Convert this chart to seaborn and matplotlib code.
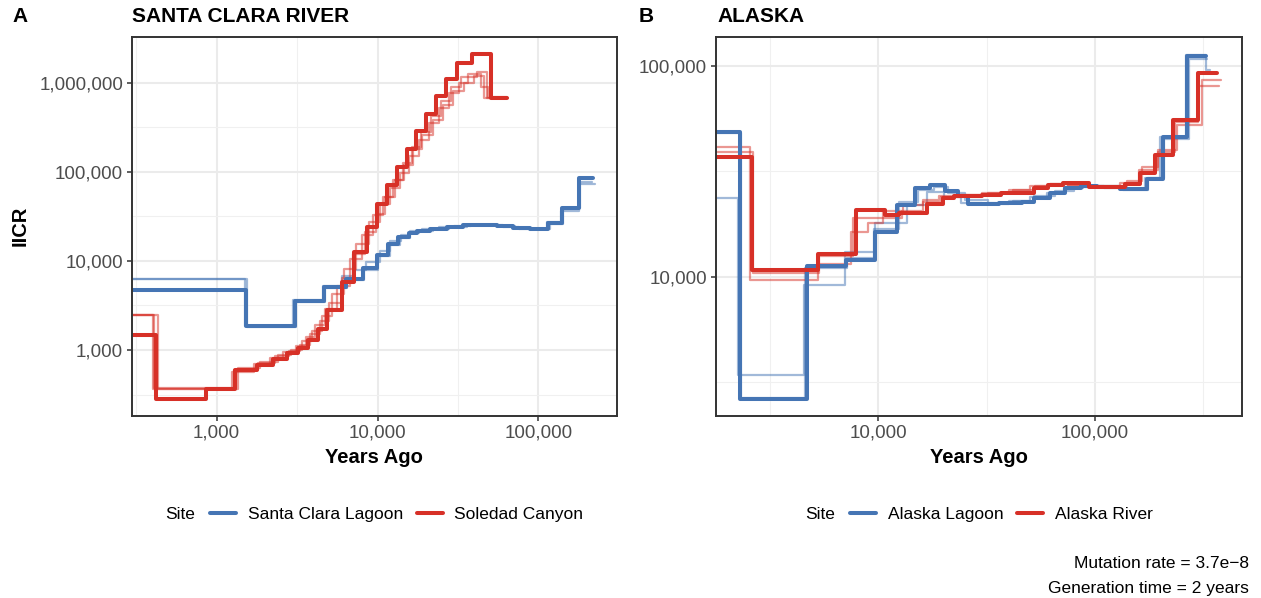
import numpy as np
import pandas as pd
import matplotlib
matplotlib.use("Agg")
import matplotlib.pyplot as plt
import seaborn as sns
from matplotlib.ticker import FixedLocator, FuncFormatter, NullFormatter
from matplotlib.lines import Line2D

# ---------------- data (step start times in years ago, IICR values) ----------------
# Panel A: Santa Clara River
scl_main_t = [250, 1521, 3070, 4650, 6370, 8170, 9980, 11700, 13500, 15600, 17500, 21200,
              26900, 34200, 43400, 55100, 69900, 88800, 115000, 140000, 180000]
scl_main_v = [4710, 1857, 3550, 5050, 6210, 8250, 11650, 15500, 18400, 20700, 21800, 22800,
              24200, 25100, 25300, 24600, 23200, 22600, 26800, 38900, 84400]
scl_main_end = 220000
scl_bs1_t = [250, 1500, 3000, 4600, 6000, 7000, 8500, 10300, 12000, 14000, 16000, 19000, 24000,
             30000, 38000, 48000, 60000, 76000, 95000, 113000, 138000, 178000]
scl_bs1_v = [6210, 1857, 3600, 5200, 6800, 7900, 9700, 13000, 16500, 19500, 21500, 22500, 23800,
             24800, 25300, 25000, 23800, 23000, 22800, 27500, 36000, 72000]
scl_bs1_end = 225000
scl_bs2_t = [250, 1540, 3100, 4700, 6500, 8300, 10100, 11900, 13800, 15900, 18000, 22000, 28000,
             36000, 45000, 57000, 72000, 91000, 118000, 142000, 182000]
scl_bs2_v = [6210, 1820, 3500, 4950, 6100, 8000, 11200, 15000, 18000, 20300, 21600, 22600, 24000,
             25000, 25200, 24400, 23100, 22500, 26000, 39500, 76000]
scl_bs2_end = 215000

sc_main_t = [250, 420, 859, 1300, 1770, 2250, 2720, 3220, 3715, 4290, 4830, 5985, 7140, 8570,
             9980, 11500, 13300, 15200, 17300, 20000, 23100, 26700, 31400, 38500, 50500]
sc_main_v = [1470, 279, 361, 596, 678, 785, 917, 1043, 1294, 1706, 2810, 5850, 12700, 24200,
             43500, 71000, 114000, 182000, 289000, 445000, 708000, 1109000, 1649000, 2099000, 679000]
sc_main_end = 63500
sc_bs1_t = [250, 400, 1250, 1700, 2150, 2600, 3100, 3600, 4100, 4700, 5600, 6700, 8000, 9400,
            10800, 12500, 14300, 16300, 18600, 21500, 24800, 28600, 33000, 41400, 47700]
sc_bs1_v = [2470, 361, 560, 700, 820, 960, 1100, 1400, 1900, 2900, 5200, 10500, 19500, 33000,
            52000, 80000, 125000, 190000, 280000, 420000, 620000, 900000, 1150000, 1330000, 669000]
sc_bs1_end = 65000
sc_bs2_t = [250, 430, 1350, 1850, 2400, 2900, 3400, 3900, 4500, 5200, 6200, 7400, 8800, 10300,
            11900, 13800, 15800, 18000, 20800, 24000, 27700, 32000, 36500, 44000, 48500]
sc_bs2_v = [2470, 365, 620, 740, 880, 1000, 1250, 1650, 2400, 4300, 8200, 15500, 27000, 44000,
            66000, 98000, 150000, 230000, 350000, 520000, 760000, 1000000, 1250000, 900000, 690000]
sc_bs2_end = 64000
sc_bs3_t = [250, 410, 1280, 1800, 2300, 2800, 3300, 3800, 4400, 5000, 6000, 7000, 8400, 9800,
            11200, 12900, 14700, 16700, 19000, 22000, 25500, 29500, 34500, 40000, 46000]
sc_bs3_v = [2470, 370, 600, 720, 850, 980, 1150, 1500, 2100, 3400, 6500, 12000, 21000, 34000,
            52000, 80000, 120000, 180000, 260000, 380000, 560000, 800000, 1000000, 1200000, 680000]
sc_bs3_end = 62000

# Panel B: Alaska
al_main_t = [1500, 2310, 4670, 7110, 9670, 12200, 14700, 17400, 20400, 23200, 26000, 36000,
             45900, 52100, 61700, 73000, 86300, 102000, 131000, 173000, 205000, 267000]
al_main_v = [48600, 2620, 11250, 12000, 16200, 21900, 26200, 27200, 25500, 24100, 22100, 22300,
             22600, 23500, 24800, 26200, 26900, 26500, 25900, 28900, 46100, 111000]
al_main_end = 325000
al_bs1_t = [1500, 2260, 4530, 7000, 9670, 13500, 16700, 20000, 24000, 30000, 40000, 52000,
            65000, 80000, 100000, 130000, 170000, 200000, 263000, 325000]
al_bs1_v = [23700, 3420, 9120, 13100, 17900, 21900, 25300, 23800, 22300, 22000, 22800, 24000,
            25500, 26500, 26800, 26000, 29500, 46000, 112000, 95500]
al_bs1_end = 339000
al_bs2_t = [1500, 2330, 4600, 7200, 9500, 12500, 15200, 18000, 21000, 25000, 32000, 42000,
            50000, 60000, 72000, 88000, 110000, 135000, 175000, 208000, 270000]
al_bs2_v = [48000, 2650, 11000, 12300, 16800, 22500, 25800, 26500, 24800, 23000, 22300, 22800,
            23800, 25000, 26300, 26800, 26300, 25700, 29200, 45000, 108000]
al_bs2_end = 330000

ar_main_t = [1500, 2600, 5250, 7900, 10700, 12400, 16700, 19800, 22400, 30000, 37000, 43000,
             52100, 60400, 71500, 94000, 137000, 161000, 190000, 229000, 299000]
ar_main_v = [37100, 10800, 12800, 20800, 19600, 20000, 22100, 23500, 24100, 24500, 24800, 25000,
             26200, 27200, 27700, 26700, 27500, 30900, 37800, 55200, 92000]
ar_main_end = 364000
ar_bs1_t = [1500, 2570, 5250, 7500, 9000, 10500, 13000, 16000, 19000, 23000, 30000, 40000,
            50000, 62000, 75000, 95000, 130000, 160000, 195000, 240000, 310000]
ar_bs1_v = [41000, 9640, 11500, 16200, 18000, 20500, 21800, 23000, 24000, 24500, 25000, 25800,
            26800, 27500, 27000, 26500, 27800, 32000, 40000, 52400, 85500]
ar_bs1_end = 380000
ar_bs2_t = [1500, 2650, 5300, 7600, 10200, 12800, 16000, 19500, 24000, 32000, 42000, 53000,
            62000, 75000, 98000, 140000, 165000, 195000, 235000, 300000]
ar_bs2_v = [39000, 10400, 12500, 19000, 19000, 20500, 22500, 23800, 24300, 24800, 25800, 26800,
            27400, 27000, 26800, 28500, 33000, 39000, 54000, 80000]
ar_bs2_end = 372000

sites_a = ["Santa Clara Lagoon", "Soledad Canyon"]
sites_b = ["Alaska Lagoon", "Alaska River"]
titles = ["SANTA CLARA RIVER", "ALASKA"]
panel_tags = ["A", "B"]

BLUE = "#4575B4"
RED = "#D73027"


def steps(site, rep, starts, values, end):
    t = list(starts) + [end]
    v = list(values) + [values[-1]]
    return pd.DataFrame({"site": site, "rep": rep, "years": t, "iicr": v})


df_a = pd.concat([
    steps(sites_a[0], "main", scl_main_t, scl_main_v, scl_main_end),
    steps(sites_a[0], "bs1", scl_bs1_t, scl_bs1_v, scl_bs1_end),
    steps(sites_a[0], "bs2", scl_bs2_t, scl_bs2_v, scl_bs2_end),
    steps(sites_a[1], "main", sc_main_t, sc_main_v, sc_main_end),
    steps(sites_a[1], "bs1", sc_bs1_t, sc_bs1_v, sc_bs1_end),
    steps(sites_a[1], "bs2", sc_bs2_t, sc_bs2_v, sc_bs2_end),
    steps(sites_a[1], "bs3", sc_bs3_t, sc_bs3_v, sc_bs3_end),
], ignore_index=True)

df_b = pd.concat([
    steps(sites_b[0], "main", al_main_t, al_main_v, al_main_end),
    steps(sites_b[0], "bs1", al_bs1_t, al_bs1_v, al_bs1_end),
    steps(sites_b[0], "bs2", al_bs2_t, al_bs2_v, al_bs2_end),
    steps(sites_b[1], "main", ar_main_t, ar_main_v, ar_main_end),
    steps(sites_b[1], "bs1", ar_bs1_t, ar_bs1_v, ar_bs1_end),
    steps(sites_b[1], "bs2", ar_bs2_t, ar_bs2_v, ar_bs2_end),
], ignore_index=True)

# ---------------- figure ----------------
sns.set_theme(style="white")
plt.rcParams['font.family'] = ['Liberation Sans', 'DejaVu Sans']
plt.rcParams['text.color'] = 'black'

W, H = 1261, 598
fig = plt.figure(figsize=(W / 100, H / 100), dpi=100)


def px_axes(l, t, r, b):
    return fig.add_axes([l / W, 1 - b / H, (r - l) / W, (b - t) / H])


axA = px_axes(131.8, 36.7, 617, 415.7)
axB = px_axes(716, 36.7, 1241.7, 415.7)


def draw(ax, df, order):
    pal = dict(zip(order, [BLUE, RED]))
    ax.set_xscale("log")
    ax.set_yscale("log")
    boots = df[df["rep"] != "main"]
    main = df[df["rep"] == "main"]
    sns.lineplot(data=boots, x="years", y="iicr", hue="site", units="rep", estimator=None,
                 sort=False, palette=pal, hue_order=order, linewidth=1.6, alpha=0.5,
                 drawstyle="steps-post", legend=False, ax=ax)
    sns.lineplot(data=main, x="years", y="iicr", hue="site", units="rep", estimator=None,
                 sort=False, palette=pal, hue_order=order, linewidth=2.9,
                 drawstyle="steps-post", legend=False, ax=ax)


draw(axA, df_a, sites_a)
draw(axB, df_b, sites_b)

fmt = FuncFormatter(lambda v, p: f"{v:,.0f}")


def style(ax, xlim, ylim, xmaj, xmin_, ymaj, ymin_):
    ax.set_xlim(*xlim)
    ax.set_ylim(*ylim)
    ax.xaxis.set_major_locator(FixedLocator(xmaj))
    ax.xaxis.set_minor_locator(FixedLocator(xmin_))
    ax.yaxis.set_major_locator(FixedLocator(ymaj))
    ax.yaxis.set_minor_locator(FixedLocator(ymin_))
    ax.xaxis.set_major_formatter(fmt)
    ax.yaxis.set_major_formatter(fmt)
    ax.xaxis.set_minor_formatter(NullFormatter())
    ax.yaxis.set_minor_formatter(NullFormatter())
    ax.grid(which="major", color="#EBEBEB", linewidth=1.5)
    ax.grid(which="minor", color="#F0F0F0", linewidth=0.8)
    ax.set_axisbelow(True)
    for s in ax.spines.values():
        s.set_visible(True)
        s.set_color("#333333")
        s.set_linewidth(1.4)
    ax.tick_params(which="major", length=3.8, width=1.1, color="#333333", labelsize=13.6,
                   labelcolor="#4D4D4D", pad=2.5, bottom=True, left=True)
    ax.tick_params(which="minor", length=0)
    ax.set_xlabel("")
    ax.set_ylabel("")


style(axA, (297, 308000), (183, 3280000),
      [1e3, 1e4, 1e5], [10 ** 2.5, 10 ** 3.5, 10 ** 4.5],
      [1e3, 1e4, 1e5, 1e6], [10 ** 2.5, 10 ** 3.5, 10 ** 4.5, 10 ** 5.5])
style(axB, (1782, 475000), (2188, 137400),
      [1e4, 1e5], [10 ** 3.5, 10 ** 4.5, 10 ** 5.5],
      [1e4, 1e5], [10 ** 3.5, 10 ** 4.5])


def ftext(x, y, s, **kw):
    kw.setdefault("color", "black")
    fig.text(x / W, 1 - y / H, s, **kw)


# panel tags and titles
ftext(12, 16.5, panel_tags[0], ha="left", va="center", fontsize=15, fontweight="bold")
ftext(132, 16.5, titles[0], ha="left", va="center", fontsize=15, fontweight="bold")
ftext(639, 16.5, panel_tags[1], ha="left", va="center", fontsize=15, fontweight="bold")
ftext(717, 16.5, titles[1], ha="left", va="center", fontsize=15, fontweight="bold")

# axis titles
ftext(20, 226, "IICR", ha="center", va="center", rotation=90, fontsize=14.5, fontweight="bold")
ftext((131.8 + 617) / 2, 463.3, "Years Ago", ha="center", va="baseline", fontsize=14.5,
      fontweight="bold")
ftext((716 + 1241.7) / 2, 463.3, "Years Ago", ha="center", va="baseline", fontsize=14.5,
      fontweight="bold")


# legends
def add_legend(labels, site_x, handle_x, y):
    handles = [Line2D([], [], color=c, lw=2.9) for c in [BLUE, RED]]
    leg = fig.legend(handles, labels, loc="center left", bbox_to_anchor=(handle_x / W, 1 - y / H),
                     ncol=2, frameon=False, fontsize=12.5, handlelength=1.5, handletextpad=0.67,
                     columnspacing=0.8, borderpad=0, borderaxespad=0)
    for t in leg.get_texts():
        t.set_color("black")
    ftext(site_x, y + 5, "Site", ha="left", va="baseline", fontsize=12.5)


add_legend(sites_a, 165, 210, 514)
add_legend(sites_b, 805, 850, 514)

# caption
ftext(1249, 567.5, "Mutation rate = 3.7e\u22128", ha="right", va="baseline", fontsize=12.5)
ftext(1249, 592.5, "Generation time = 2 years", ha="right", va="baseline", fontsize=12.5)

fig.savefig("out.png", dpi=100)
